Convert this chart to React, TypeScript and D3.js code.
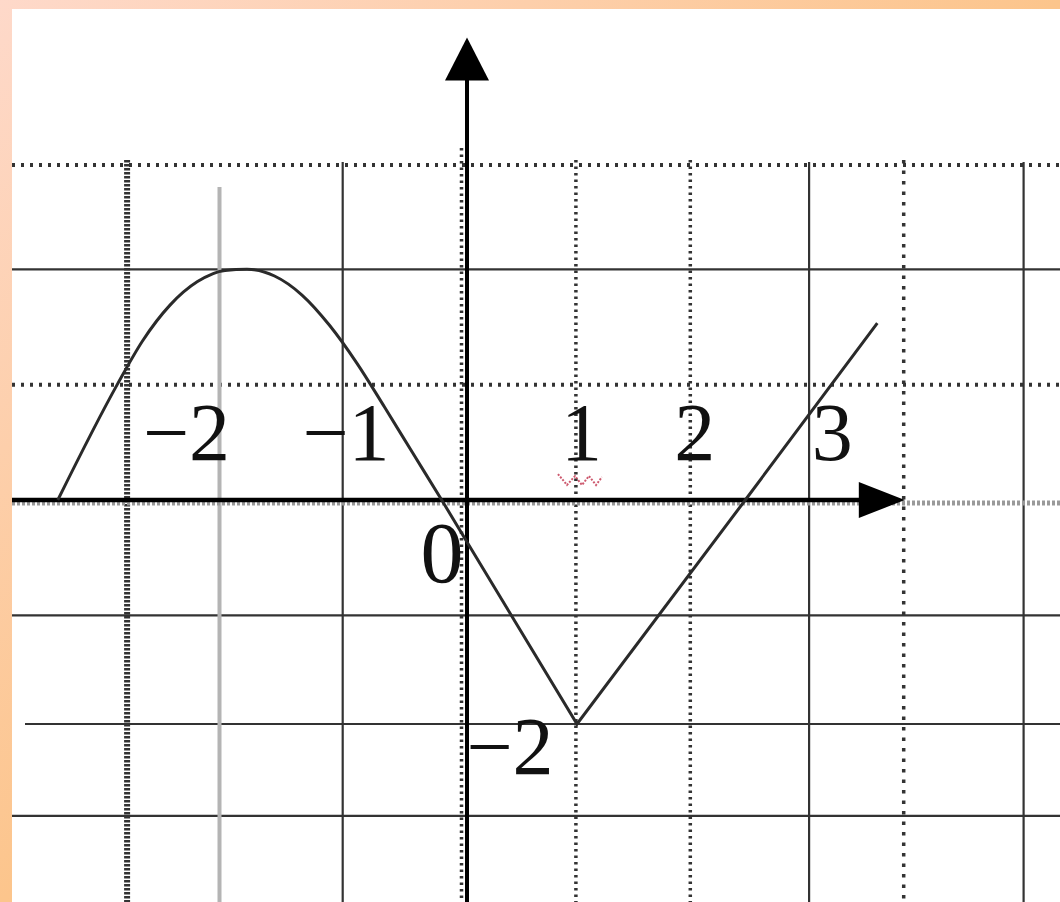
import React, { useRef, useEffect } from 'react';
import * as d3 from 'd3';

// grid lines, in axis units
const xGridDotted = [-3.09, -0.05, 0.99, 2.03, 3.97];
const xGridSolid = [-1.13, 3.11, 5.06];
const xGridGray = [-2.25];
const yGridDotted = [2.99, 1.03];
const yGridSolid = [2.06, -1.03, -2.0, -2.82];

// tick labels and where they sit (axis units)
const xTickLabels = ['−2', '−1', '1', '2', '3'];
const xTickLabelAt = [-2.55, -1.1, 1.04, 2.07, 3.32];
const yTickLabels = ['−2'];
const yTickLabelAt = [-2.45];

// the graph: a smooth arch on the left, then two straight pieces
const arcX = [-3.72, -3.18, -2.95, -2.7, -2.45, -2.2, -2.0, -1.75, -1.5, -1.25, -1.0, -0.75, -0.5, -0.23, 0];
const arcY = [0, 1.03, 1.42, 1.74, 1.95, 2.05, 2.06, 2.0, 1.83, 1.56, 1.22, 0.83, 0.43, 0, -0.375];
const lineX = [0, 1, 2.53, 3.73];
const lineY = [-0.375, -2, 0, 1.58];

// red wavy mark under the "1"
const squiggleX = [0.827, 0.909, 0.982, 1.045, 1.109, 1.173, 1.227];
const squiggleY = [0.232, 0.134, 0.214, 0.134, 0.214, 0.134, 0.205];

const App = () => {
  const svgRef = useRef(null);

  useEffect(() => {
    document.body.style.margin = '0';
    const width = 1060;
    const height = 902;

    const svg = d3.select(svgRef.current)
      .attr('width', width)
      .attr('height', height)
      .style('display', 'block');
    svg.selectAll('*').remove();

    const x = d3.scaleLinear().domain([0, 1]).range([467, 577]);
    const y = d3.scaleLinear().domain([0, -2]).range([500, 724]);

    // orange frame
    const defs = svg.append('defs');
    const grad = defs.append('linearGradient')
      .attr('id', 'frame')
      .attr('x1', '0').attr('y1', '0').attr('x2', '1').attr('y2', '1');
    grad.append('stop').attr('offset', '0').attr('stop-color', '#fed9ca');
    grad.append('stop').attr('offset', '0.5').attr('stop-color', '#fcc58c');
    grad.append('stop').attr('offset', '1').attr('stop-color', '#fcb47a');
    svg.append('rect').attr('width', width).attr('height', height).attr('fill', 'url(#frame)');
    svg.append('rect').attr('x', 12).attr('y', 9)
      .attr('width', width - 12).attr('height', height - 9).attr('fill', '#fff');

    const left = 12;

    // horizontal grid
    svg.append('g').selectAll('line').data(yGridSolid).enter().append('line')
      .attr('x1', (d) => (d === -2 ? 25 : left)).attr('x2', width)
      .attr('y1', (d) => y(d)).attr('y2', (d) => y(d))
      .attr('stroke', '#333').attr('stroke-width', 2.2);
    svg.append('g').selectAll('line').data(yGridDotted).enter().append('line')
      .attr('x1', left).attr('x2', width)
      .attr('y1', (d) => y(d)).attr('y2', (d) => y(d))
      .attr('stroke', '#333').attr('stroke-width', 4)
      .attr('stroke-dasharray', '3 6');

    // vertical grid
    svg.append('g').selectAll('line').data(xGridGray).enter().append('line')
      .attr('x1', (d) => x(d)).attr('x2', (d) => x(d))
      .attr('y1', 187).attr('y2', height)
      .attr('stroke', '#b4b4b4').attr('stroke-width', 4);
    svg.append('g').selectAll('line').data(xGridSolid).enter().append('line')
      .attr('x1', (d) => x(d)).attr('x2', (d) => x(d))
      .attr('y1', 162).attr('y2', height)
      .attr('stroke', '#333').attr('stroke-width', 2.2);
    svg.append('g').selectAll('line').data(xGridDotted).enter().append('line')
      .attr('x1', (d) => x(d)).attr('x2', (d) => x(d))
      .attr('y1', (d, i) => (i === 1 ? 148 : 160)).attr('y2', height)
      .attr('stroke', '#333')
      .attr('stroke-width', (d, i) => (i === 0 ? 6 : 3.5))
      .attr('stroke-dasharray', (d, i) => (i === 0 ? '2.5 1.5' : i === 4 ? '3.5 7' : '2.5 4'));

    // gray dotted line along the x axis
    svg.append('line')
      .attr('x1', left).attr('x2', width)
      .attr('y1', y(0) + 3).attr('y2', y(0) + 3)
      .attr('stroke', '#999').attr('stroke-width', 5)
      .attr('stroke-dasharray', '3 2');

    // axes
    const xEnd = 3.98;
    svg.append('line')
      .attr('x1', left).attr('x2', x(xEnd) - 30)
      .attr('y1', y(0)).attr('y2', y(0))
      .attr('stroke', '#000').attr('stroke-width', 4.5);
    svg.append('path')
      .attr('d', `M${x(xEnd)},${y(0)} L${x(xEnd) - 46},${y(0) - 18} L${x(xEnd) - 46},${y(0) + 18} Z`)
      .attr('fill', '#000');

    const yEnd = 4.13;
    svg.append('line')
      .attr('x1', x(0)).attr('x2', x(0))
      .attr('y1', y(yEnd) + 30).attr('y2', height)
      .attr('stroke', '#000').attr('stroke-width', 4);
    svg.append('path')
      .attr('d', `M${x(0)},${y(yEnd)} L${x(0) - 22},${y(yEnd) + 43} L${x(0) + 22},${y(yEnd) + 43} Z`)
      .attr('fill', '#000');

    // the graph
    const arcLine = d3.line()
      .x((d) => x(d[0])).y((d) => y(d[1]))
      .curve(d3.curveMonotoneX);
    svg.append('path')
      .attr('d', arcLine(arcX.map((v, i) => [v, arcY[i]])))
      .attr('fill', 'none').attr('stroke', '#2a2a2a').attr('stroke-width', 3);

    const straight = d3.line().x((d) => x(d[0])).y((d) => y(d[1]));
    svg.append('path')
      .attr('d', straight(lineX.map((v, i) => [v, lineY[i]])))
      .attr('fill', 'none').attr('stroke', '#2a2a2a').attr('stroke-width', 3)
      .attr('stroke-linejoin', 'miter');

    // red wavy mark
    svg.append('path')
      .attr('d', straight(squiggleX.map((v, i) => [v, squiggleY[i]])))
      .attr('fill', 'none').attr('stroke', '#c0304a').attr('stroke-width', 2)
      .attr('stroke-dasharray', '2 1.5').attr('opacity', 0.8);

    // labels
    const font = '"Liberation Serif", "DejaVu Serif", serif';
    svg.append('g').selectAll('text').data(xTickLabels).enter().append('text')
      .attr('x', (d, i) => x(xTickLabelAt[i]))
      .attr('y', 460)
      .attr('text-anchor', 'middle')
      .style('font-family', font)
      .style('font-size', '82px')
      .style('fill', '#111')
      .text((d) => d);

    svg.append('text')
      .attr('x', 442).attr('y', 582)
      .attr('text-anchor', 'middle')
      .style('font-family', font)
      .style('font-size', '86px')
      .style('fill', '#111')
      .text('0');

    svg.append('g').selectAll('text').data(yTickLabels).enter().append('text')
      .attr('x', 510)
      .attr('y', (d, i) => y(yTickLabelAt[i]))
      .attr('text-anchor', 'middle')
      .style('font-family', font)
      .style('font-size', '82px')
      .style('fill', '#111')
      .text((d) => d);
  }, []);

  return <svg ref={svgRef}></svg>;
};

export default App;
